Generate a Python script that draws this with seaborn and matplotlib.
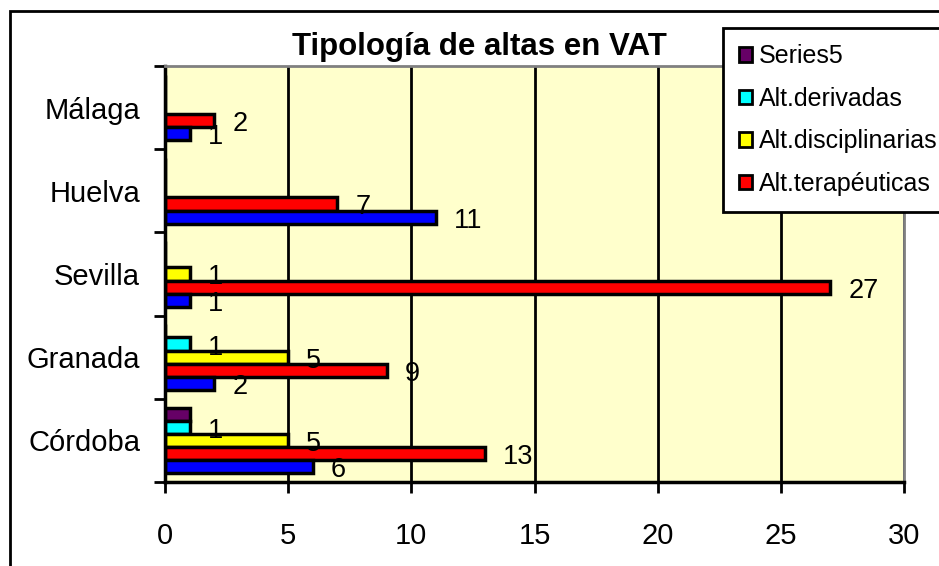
import numpy as np
import pandas as pd
import seaborn as sns
import matplotlib.pyplot as plt
from matplotlib.patches import Rectangle

# data
provincias = ["Córdoba", "Granada", "Sevilla", "Huelva", "Málaga"]
series1 = [6, 2, 1, 11, 1]
terapeuticas = [13, 9, 27, 7, 2]
disciplinarias = [5, 5, 1, 0, 0]
derivadas = [1, 1, 0, 0, 0]
series5 = [1, 0, 0, 0, 0]

series_names = ["Series5", "Alt.derivadas", "Alt.disciplinarias", "Alt.terapéuticas", "Series1"]
series_values = [series5, derivadas, disciplinarias, terapeuticas, series1]
colors = ["#660066", "#00FFFF", "#FFFF00", "#FF0000", "#0000FF"]
labelled = ["Alt.derivadas", "Alt.disciplinarias", "Alt.terapéuticas", "Series1"]

rows = []
for name, vals in zip(series_names, series_values):
    for prov, v in zip(provincias, vals):
        rows.append({"provincia": prov, "serie": name, "altas": v})
df = pd.DataFrame(rows)

sns.set_style("white")
plt.rcParams["font.family"] = ["Liberation Sans", "DejaVu Sans"]
plt.rcParams["text.color"] = "black"
plt.rcParams["xtick.color"] = "black"
plt.rcParams["ytick.color"] = "black"

fig = plt.figure(figsize=(9.39, 5.66), dpi=100)
ax = fig.add_axes([165 / 939, 1 - 482 / 566, (904 - 165) / 939, (482 - 66) / 566])
ax.set_facecolor("#FFFFCC")

sns.barplot(data=df, x="altas", y="provincia", hue="serie",
            order=provincias[::-1], hue_order=series_names,
            palette=dict(zip(series_names, colors)), orient="h",
            width=0.79, edgecolor="black", linewidth=2.5, saturation=1,
            errorbar=None, legend=False, ax=ax)

# value labels
for container, name in zip(ax.containers, series_names):
    if name not in labelled:
        continue
    for bar in container:
        w = bar.get_width()
        if w <= 0:
            continue
        yc = bar.get_y() + bar.get_height() / 2
        ax.annotate(f"{w:g}", (w, yc), xytext=(13, -2.5), textcoords="offset points",
                    ha="left", va="center", fontsize=19.5, color="black")

ax.set_xlim(0, 30)
ax.set_xticks(range(0, 31, 5))
ax.set_ylim(4.5, -0.5)
ax.set_yticks(range(5))
ax.set_yticks(np.arange(-0.5, 5, 1), minor=True)
ax.set_xlabel("")
ax.set_ylabel("")
ax.grid(axis="x", color="black", lw=2)
ax.grid(axis="y", visible=False)
ax.set_axisbelow(True)
ax.tick_params(axis="x", which="major", direction="out", length=8, width=2,
               pad=21, labelsize=21, bottom=True, labelcolor="black")
ax.tick_params(axis="y", which="major", length=0, pad=18, labelsize=21, labelcolor="black")
ax.tick_params(axis="y", which="minor", direction="out", length=8, width=2, left=True)

for side in ["left", "bottom"]:
    ax.spines[side].set_color("black")
    ax.spines[side].set_linewidth(2.5)
for side in ["top", "right"]:
    ax.spines[side].set_visible(True)
    ax.spines[side].set_color("#808080")
    ax.spines[side].set_linewidth(2)

fig.text(479 / 939, 1 - 55 / 566, "Tipología de altas en VAT", ha="center",
         va="baseline", fontsize=22.5, fontweight="bold", color="black")

# legend (the blue series is cut off in the original)
handles = [plt.Rectangle((0, 0), 1, 1, facecolor=c, edgecolor="black", lw=2)
           for c in colors[:4]]
leg = fig.legend(handles, series_names[:4], loc="upper left",
                 bbox_to_anchor=(723 / 939, 1 - 28 / 566), bbox_transform=fig.transFigure,
                 fontsize=18, frameon=True, fancybox=False, framealpha=1,
                 edgecolor="black", handlelength=0.5, handleheight=0.5,
                 handletextpad=0.3, labelspacing=0.74, borderpad=0.65, borderaxespad=0)
leg.get_frame().set_linewidth(2)
for t in leg.get_texts():
    t.set_color("black")

# outer chart frame, running off the right and bottom edges
fig.add_artist(Rectangle((10 / 939, -0.2), 2, 1 - 11 / 566 + 0.2, transform=fig.transFigure,
                         fill=False, edgecolor="black", lw=2, clip_on=False))

fig.savefig("out.png", dpi=100)
